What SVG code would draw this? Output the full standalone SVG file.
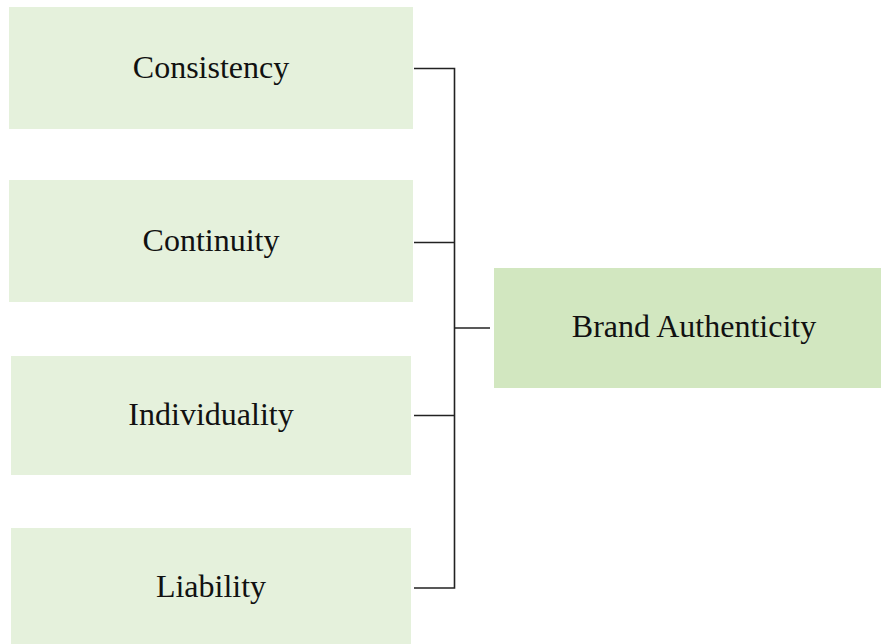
<svg xmlns="http://www.w3.org/2000/svg" width="881" height="644" viewBox="0 0 881 644">
  <style>
    .box { fill: #e5f1dc; }
    .main { fill: #d2e7c0; }
    .lbl { font-family: "Liberation Serif", "Times New Roman", serif; font-size: 32px; fill: #111; text-anchor: middle; }
    .conn { fill: none; stroke: #222; stroke-width: 1.6; }
  </style>
  <rect width="881" height="644" fill="#ffffff"/>
  <g id="consistency">
    <rect class="box" x="9" y="7" width="404" height="122"/>
    <text class="lbl" x="211" y="78">Consistency</text>
  </g>
  <g id="continuity">
    <rect class="box" x="9" y="180" width="404" height="122"/>
    <text class="lbl" x="211" y="251">Continuity</text>
  </g>
  <g id="individuality">
    <rect class="box" x="11" y="356" width="400" height="119"/>
    <text class="lbl" x="211" y="425">Individuality</text>
  </g>
  <g id="liability">
    <rect class="box" x="11" y="528" width="400" height="116"/>
    <text class="lbl" x="211" y="597">Liability</text>
  </g>
  <g id="brand-authenticity">
    <rect class="main" x="494" y="268" width="387" height="120"/>
    <text class="lbl" x="694" y="337">Brand Authenticity</text>
  </g>
  <g id="connectors">
    <polyline class="conn" points="414,68.5 454.5,68.5 454.5,588 414,588"/>
    <line class="conn" x1="414" y1="242.5" x2="454.5" y2="242.5"/>
    <line class="conn" x1="414" y1="415.5" x2="454.5" y2="415.5"/>
    <line class="conn" x1="454.5" y1="328" x2="490" y2="328"/>
  </g>
</svg>
